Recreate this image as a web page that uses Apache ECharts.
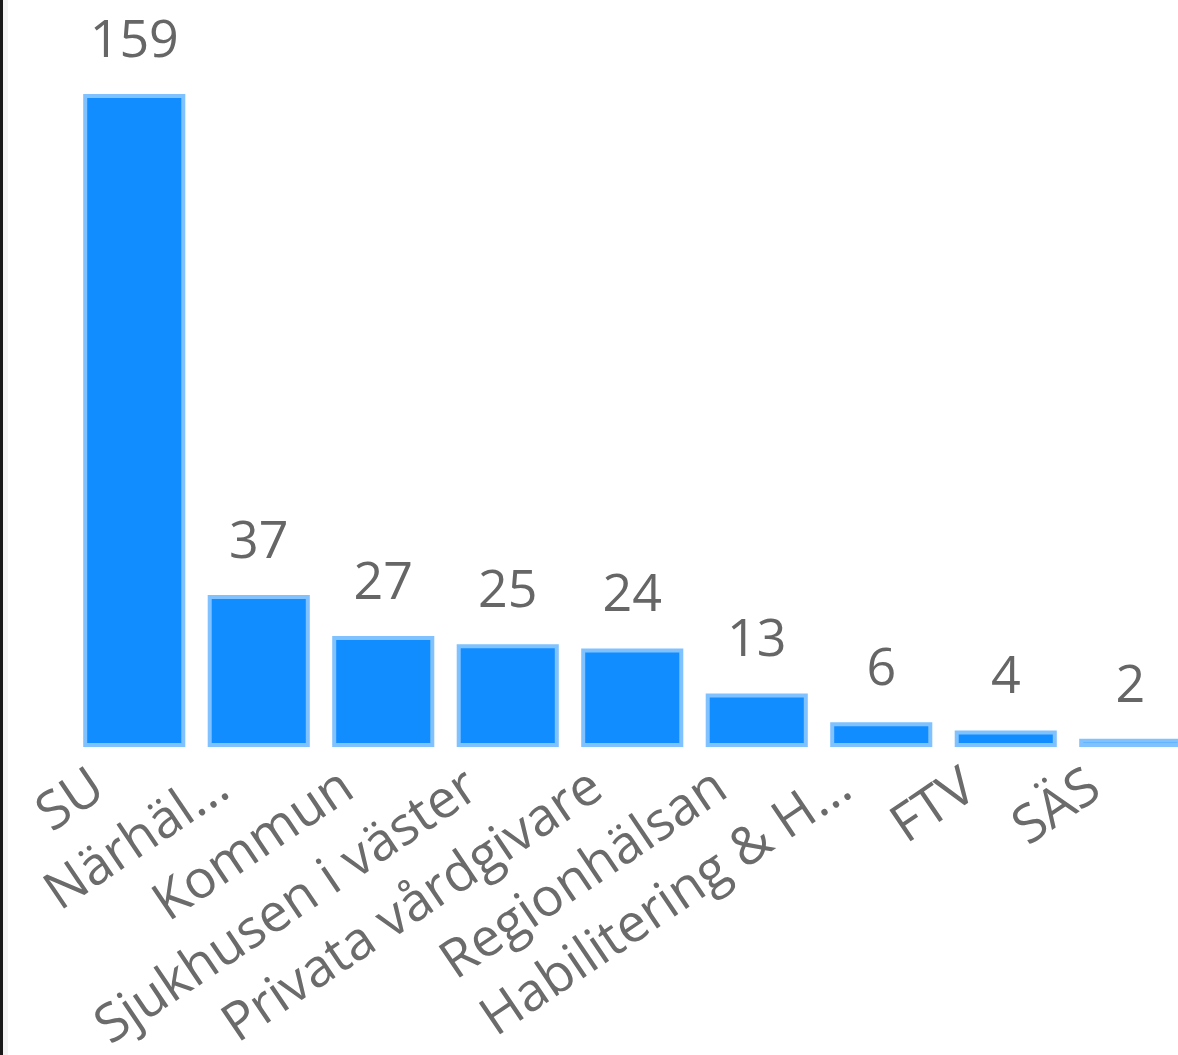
<!DOCTYPE html>
<html>
<head>
<meta charset="utf-8">
<script src="https://cdn.jsdelivr.net/npm/echarts@6/dist/echarts.min.js"></script>
<style>
html,body{margin:0;padding:0;background:#fff;overflow:hidden;width:1178px;height:1055px;}
#chart{width:1178px;height:1055px;}
#edge{position:absolute;left:0;top:0;width:3px;height:1055px;background:#1a1a1a;border-right:5px solid #f4f4f4;z-index:5;}
</style>
</head>
<body>
<div id="edge"></div>
<div id="chart"></div>
<script>
const categories = ["SU", "Närhäl...", "Kommun", "Sjukhusen i väster", "Privata vårdgivare", "Regionhälsan", "Habilitering & H...", "FTV", "SÄS"];
const values = [159, 37, 27, 25, 24, 13, 6, 4, 2];

const chart = echarts.init(document.getElementById('chart'), null, {renderer: 'canvas'});
const fontFamily = '"Segoe UI", "Open Sans", "Noto Sans", sans-serif';
chart.setOption({
  animation: false,
  grid: {left: 72, top: 94, width: 1120.5, bottom: 308, containLabel: false, outerBoundsMode: 'none'},
  xAxis: {
    type: 'category',
    data: categories,
    axisLine: {show: false},
    axisTick: {show: false},
    axisLabel: {
      rotate: 34,
      interval: 0,
      margin: 12,
      padding: [0, 42, 0, 0],
      color: '#6b6b6b',
      fontSize: 53,
      fontFamily: fontFamily
    }
  },
  yAxis: {
    type: 'value',
    min: 0,
    max: 159,
    show: false,
    splitLine: {show: false}
  },
  series: [{
    type: 'bar',
    data: values,
    barWidth: '82%',
    itemStyle: {color: '#118DFF', borderColor: '#80C2FF', borderWidth: 4},
    label: {
      show: true,
      position: 'top',
      distance: 26,
      color: '#666666',
      fontSize: 52,
      fontFamily: fontFamily
    }
  }]
});
</script>
</body>
</html>
